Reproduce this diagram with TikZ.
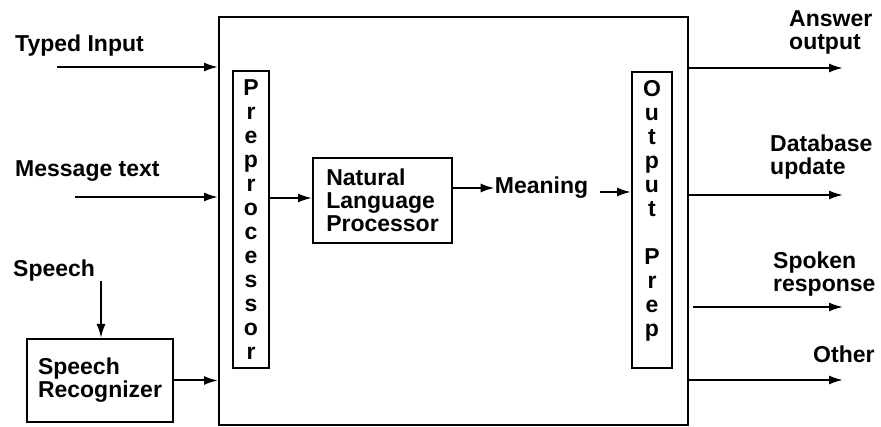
\documentclass[tikz,border=0pt]{standalone}
\usepackage{fontspec}
\setmainfont{Liberation Sans}
\usetikzlibrary{arrows.meta}
\begin{document}
\begin{tikzpicture}[x=1pt,y=-1pt,
  every node/.style={font=\bfseries\fontsize{23}{23}\selectfont, inner sep=0pt},
  box/.style={draw, line width=2pt},
  arr/.style={line width=2pt, -{Latex[length=14pt,width=9pt]}},
  lbl/.style={align=left, anchor=north west},
  inlbl/.style={anchor=base west},
  vert/.style={box, align=center, font=\bfseries\fontsize{23}{24}\selectfont}]
\useasboundingbox (0,0) rectangle (881,427);

% main system box
\node[box, minimum width=469pt, minimum height=408pt] (sys) at (453.5,221) {};

% inner boxes
\node[vert, minimum width=36pt, minimum height=297pt] (pre) at (251,219.5)
  {P\\r\\e\\p\\r\\o\\c\\e\\s\\s\\o\\r};
\node[vert, minimum width=40pt, minimum height=296pt] (op) at (652,220)
  {O\\u\\t\\p\\u\\t\\~\\P\\r\\e\\p\\~};
\node[box, align=left, minimum width=139pt, minimum height=85pt] (nlp) at (382.5,200.5)
  {Natural\\Language\\Processor};
\node (mean) at (541.5,188) {Meaning};

% speech recognizer
\node[box, align=left, minimum width=146pt, minimum height=83pt] (sr) at (100,380.5)
  {Speech\\Recognizer};

% input labels
\node[inlbl] (ltyped) at (15,52) {Typed Input};
\node[inlbl] (lmsg) at (15,177) {Message text};
\node[inlbl] (lspeech) at (13,277) {Speech};

% input arrows
\coordinate (i1) at (57,67);
\coordinate (i2) at (75,197);
\coordinate (sp) at (101,281);
\draw[arr] (i1) -- (i1 -| sys.west);
\draw[arr] (i2) -- (i2 -| sys.west);
\draw[arr] (sp) -- (sp |- sr.north);
\draw[arr] (sr.east) -- (sr.east -| sys.west);

% internal arrows
\draw[arr] (pre.east |- 0,198) -- (nlp.west |- 0,198);
\draw[arr] (nlp.east |- mean.west) -- (mean.west);
\coordinate (m2) at (600,192);
\draw[arr] (m2) -- (m2 -| op.west);

% output arrows
\coordinate (t1) at (843,68);
\coordinate (t2) at (843,195);
\coordinate (t3) at (843,307);
\coordinate (s3) at (693,307);
\coordinate (t4) at (843,380);
\draw[arr] (t1 -| sys.east) -- (t1);
\draw[arr] (t2 -| sys.east) -- (t2);
\draw[arr] (s3) -- (t3);
\draw[arr] (t4 -| sys.east) -- (t4);

% output labels
\node[lbl] (lans) at (789,10) {Answer\\output};
\node[lbl] (ldb) at (770,135) {Database\\update};
\node[lbl] (lspk) at (773,252) {Spoken\\response};
\node[lbl] (loth) at (813,345.5) {Other};
\end{tikzpicture}
\end{document}
